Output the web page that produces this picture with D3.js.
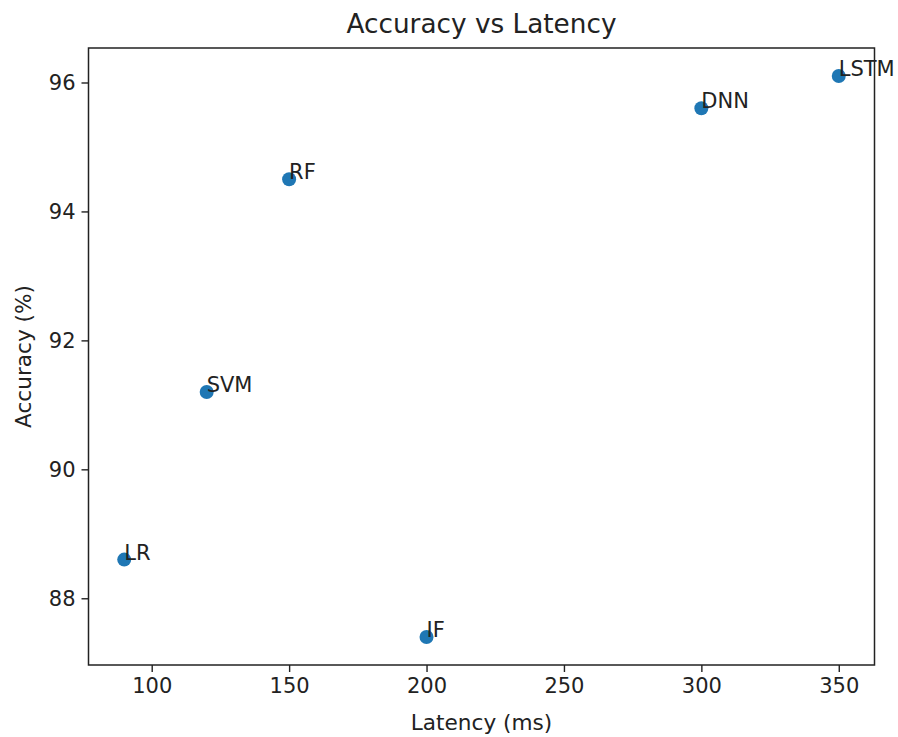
<!DOCTYPE html>
<html>
<head>
<meta charset="utf-8">
<script src="https://cdn.jsdelivr.net/npm/d3@7"></script>
<style>
  html, body { margin: 0; padding: 0; background: #fff; }
  svg { display: block; font-family: "DejaVu Sans", sans-serif; }
</style>
</head>
<body>
<svg id="chart" width="898" height="737"></svg>
<script>
// Model names, latency (ms) and accuracy (%)
const models = ["LR", "SVM", "RF", "IF", "DNN", "LSTM"];
const latency = [90, 120, 150, 200, 300, 350];
const accuracy = [88.6, 91.2, 94.5, 87.4, 95.6, 96.1];
const xTicks = [100, 150, 200, 250, 300, 350];
const yTicks = [88, 90, 92, 94, 96];

const W = 898, H = 737;
const plot = { left: 88.5, right: 874.5, top: 48, bottom: 665 };
const textColor = "#222";
const pointColor = "#1f77b4";

const svg = d3.select("#chart");

// Pad the data extent by 5% on each side
function padded(vals) {
  const [lo, hi] = d3.extent(vals);
  const m = (hi - lo) * 0.05;
  return [lo - m, hi + m];
}

const x = d3.scaleLinear().domain(padded(latency)).range([plot.left, plot.right]);
const y = d3.scaleLinear().domain(padded(accuracy)).range([plot.bottom, plot.top]);

const data = models.map((name, i) => ({ name, lat: latency[i], acc: accuracy[i] }));

// Axes
const xAxis = d3.axisBottom(x).tickValues(xTicks).tickSize(7).tickPadding(6).tickFormat(d3.format("d"));
const yAxis = d3.axisLeft(y).tickValues(yTicks).tickSize(7).tickPadding(6).tickFormat(d3.format("d"));

const gx = svg.append("g").attr("transform", `translate(0,${plot.bottom})`).call(xAxis);
const gy = svg.append("g").attr("transform", `translate(${plot.left},0)`).call(yAxis);

[gx, gy].forEach(g => {
  g.select(".domain").remove();
  g.selectAll(".tick line").attr("stroke", "#222").attr("stroke-width", 1.4);
  g.selectAll(".tick text").attr("fill", textColor).style("font-size", "21px")
    .style("font-family", "'DejaVu Sans', sans-serif");
});

// Frame around the plotting area
svg.append("rect")
  .attr("x", plot.left).attr("y", plot.top)
  .attr("width", plot.right - plot.left).attr("height", plot.bottom - plot.top)
  .attr("fill", "none").attr("stroke", "#222").attr("stroke-width", 1.5);

// Points
svg.append("g").selectAll("circle").data(data).join("circle")
  .attr("cx", d => x(d.lat)).attr("cy", d => y(d.acc))
  .attr("r", 7).attr("fill", pointColor);

// Point labels, anchored at the point on the text baseline
svg.append("g").selectAll("text").data(data).join("text")
  .attr("x", d => x(d.lat)).attr("y", d => y(d.acc))
  .attr("fill", textColor).style("font-size", "21px")
  .text(d => d.name);

// Title and axis labels
svg.append("text").attr("x", (plot.left + plot.right) / 2).attr("y", 33)
  .attr("text-anchor", "middle").attr("fill", textColor).style("font-size", "26.3px")
  .text("Accuracy vs Latency");

svg.append("text").attr("x", (plot.left + plot.right) / 2).attr("y", 730)
  .attr("text-anchor", "middle").attr("fill", textColor).style("font-size", "21.6px")
  .text("Latency (ms)");

svg.append("text")
  .attr("transform", `translate(31,${(plot.top + plot.bottom) / 2}) rotate(-90)`)
  .attr("text-anchor", "middle").attr("fill", textColor).style("font-size", "21.6px")
  .text("Accuracy (%)");
</script>
</body>
</html>
